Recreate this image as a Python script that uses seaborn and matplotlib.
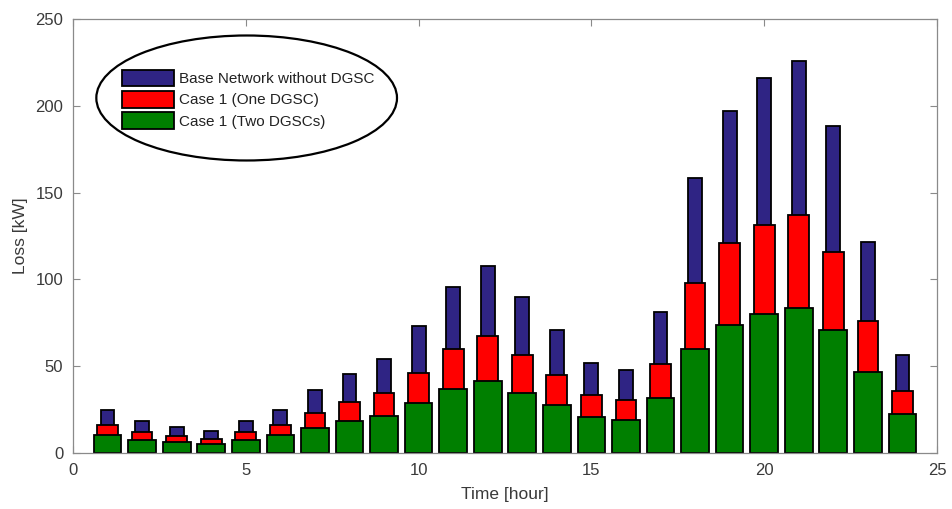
import matplotlib
matplotlib.use("Agg")
import matplotlib.pyplot as plt
from matplotlib.patches import Ellipse
import seaborn as sns
import pandas as pd

# Hourly power loss [kW] for the three network configurations
hours = list(range(1, 25))
base_loss = [25.0, 18.2, 14.8, 12.7, 18.2, 25.0, 36.3, 45.7, 54.1, 73.2, 95.4, 108.0,
             89.6, 70.8, 51.8, 47.8, 81.2, 158.4, 197.2, 215.8, 225.6, 188.4, 121.5, 56.2]
one_dgsc_loss = [16.3, 11.9, 9.6, 8.2, 11.9, 16.3, 23.2, 29.1, 34.6, 46.3, 60.1, 67.6,
                 56.4, 44.7, 33.2, 30.5, 51.4, 98.1, 120.7, 131.5, 137.3, 115.6, 76.0, 35.9]
two_dgsc_loss = [10.1, 7.5, 6.1, 5.4, 7.5, 10.1, 14.4, 18.2, 21.5, 28.6, 36.9, 41.6,
                 34.7, 27.8, 20.5, 19.0, 31.7, 60.1, 73.7, 80.2, 83.7, 70.6, 46.4, 22.2]
series_labels = ["Base Network without DGSC", "Case 1 (One DGSC)", "Case 1 (Two DGSCs)"]
series_colors = ["#2f2484", "#ff0000", "#007f00"]
bar_widths = [0.4, 0.6, 0.8]

sns.set_theme(style="white")
plt.rcParams["font.family"] = ["Liberation Sans", "DejaVu Sans"]
text_color = "#3a3a3a"
frame_color = "#8a8a8a"

fig = plt.figure(figsize=(9.53, 5.09), dpi=100)
ax = fig.add_axes([73 / 953, 1 - 453 / 509, 864 / 953, 434 / 509])

for vals, lab, col, w in zip([base_loss, one_dgsc_loss, two_dgsc_loss],
                             series_labels, series_colors, bar_widths):
    df = pd.DataFrame({"hour": hours, "loss": vals})
    sns.barplot(data=df, x="hour", y="loss", native_scale=True, width=w,
                color=col, edgecolor="black", linewidth=1.3, saturation=1,
                label=lab, ax=ax, errorbar=None)

ax.set_xlim(0, 25)
ax.set_ylim(0, 250)
ax.set_xticks([0, 5, 10, 15, 20, 25])
ax.set_xticklabels(["0", "5", "10", "15", "20", "25"])
ax.set_yticks([0, 50, 100, 150, 200, 250])
ax.set_yticklabels(["0", "50", "100", "150", "200", "250"])
ax.tick_params(direction="in", length=5, width=0.8, color=frame_color,
               labelsize=12, labelcolor=text_color, top=True, right=True,
               bottom=True, left=True, pad=7)
for sp in ax.spines.values():
    sp.set_color(frame_color)
    sp.set_linewidth(0.9)
    sp.set_visible(True)

ax.set_xlabel("Time [hour]", fontsize=12.5, color=text_color, labelpad=7)
ax.set_ylabel("Loss [kW]", fontsize=12.5, color=text_color, labelpad=5)

leg = ax.legend(loc="center", bbox_to_anchor=(0.203, 0.815), frameon=False,
                fontsize=11, handlelength=3.4, handleheight=1.3,
                labelspacing=0.3, handletextpad=0.35, borderaxespad=0)
for t in leg.get_texts():
    t.set_color("#222222")

ax.add_patch(Ellipse((0.201, 0.818), 0.348, 0.288, transform=ax.transAxes,
                     fill=False, edgecolor="black", linewidth=1.6, zorder=5))

fig.savefig("out.png", dpi=100)
